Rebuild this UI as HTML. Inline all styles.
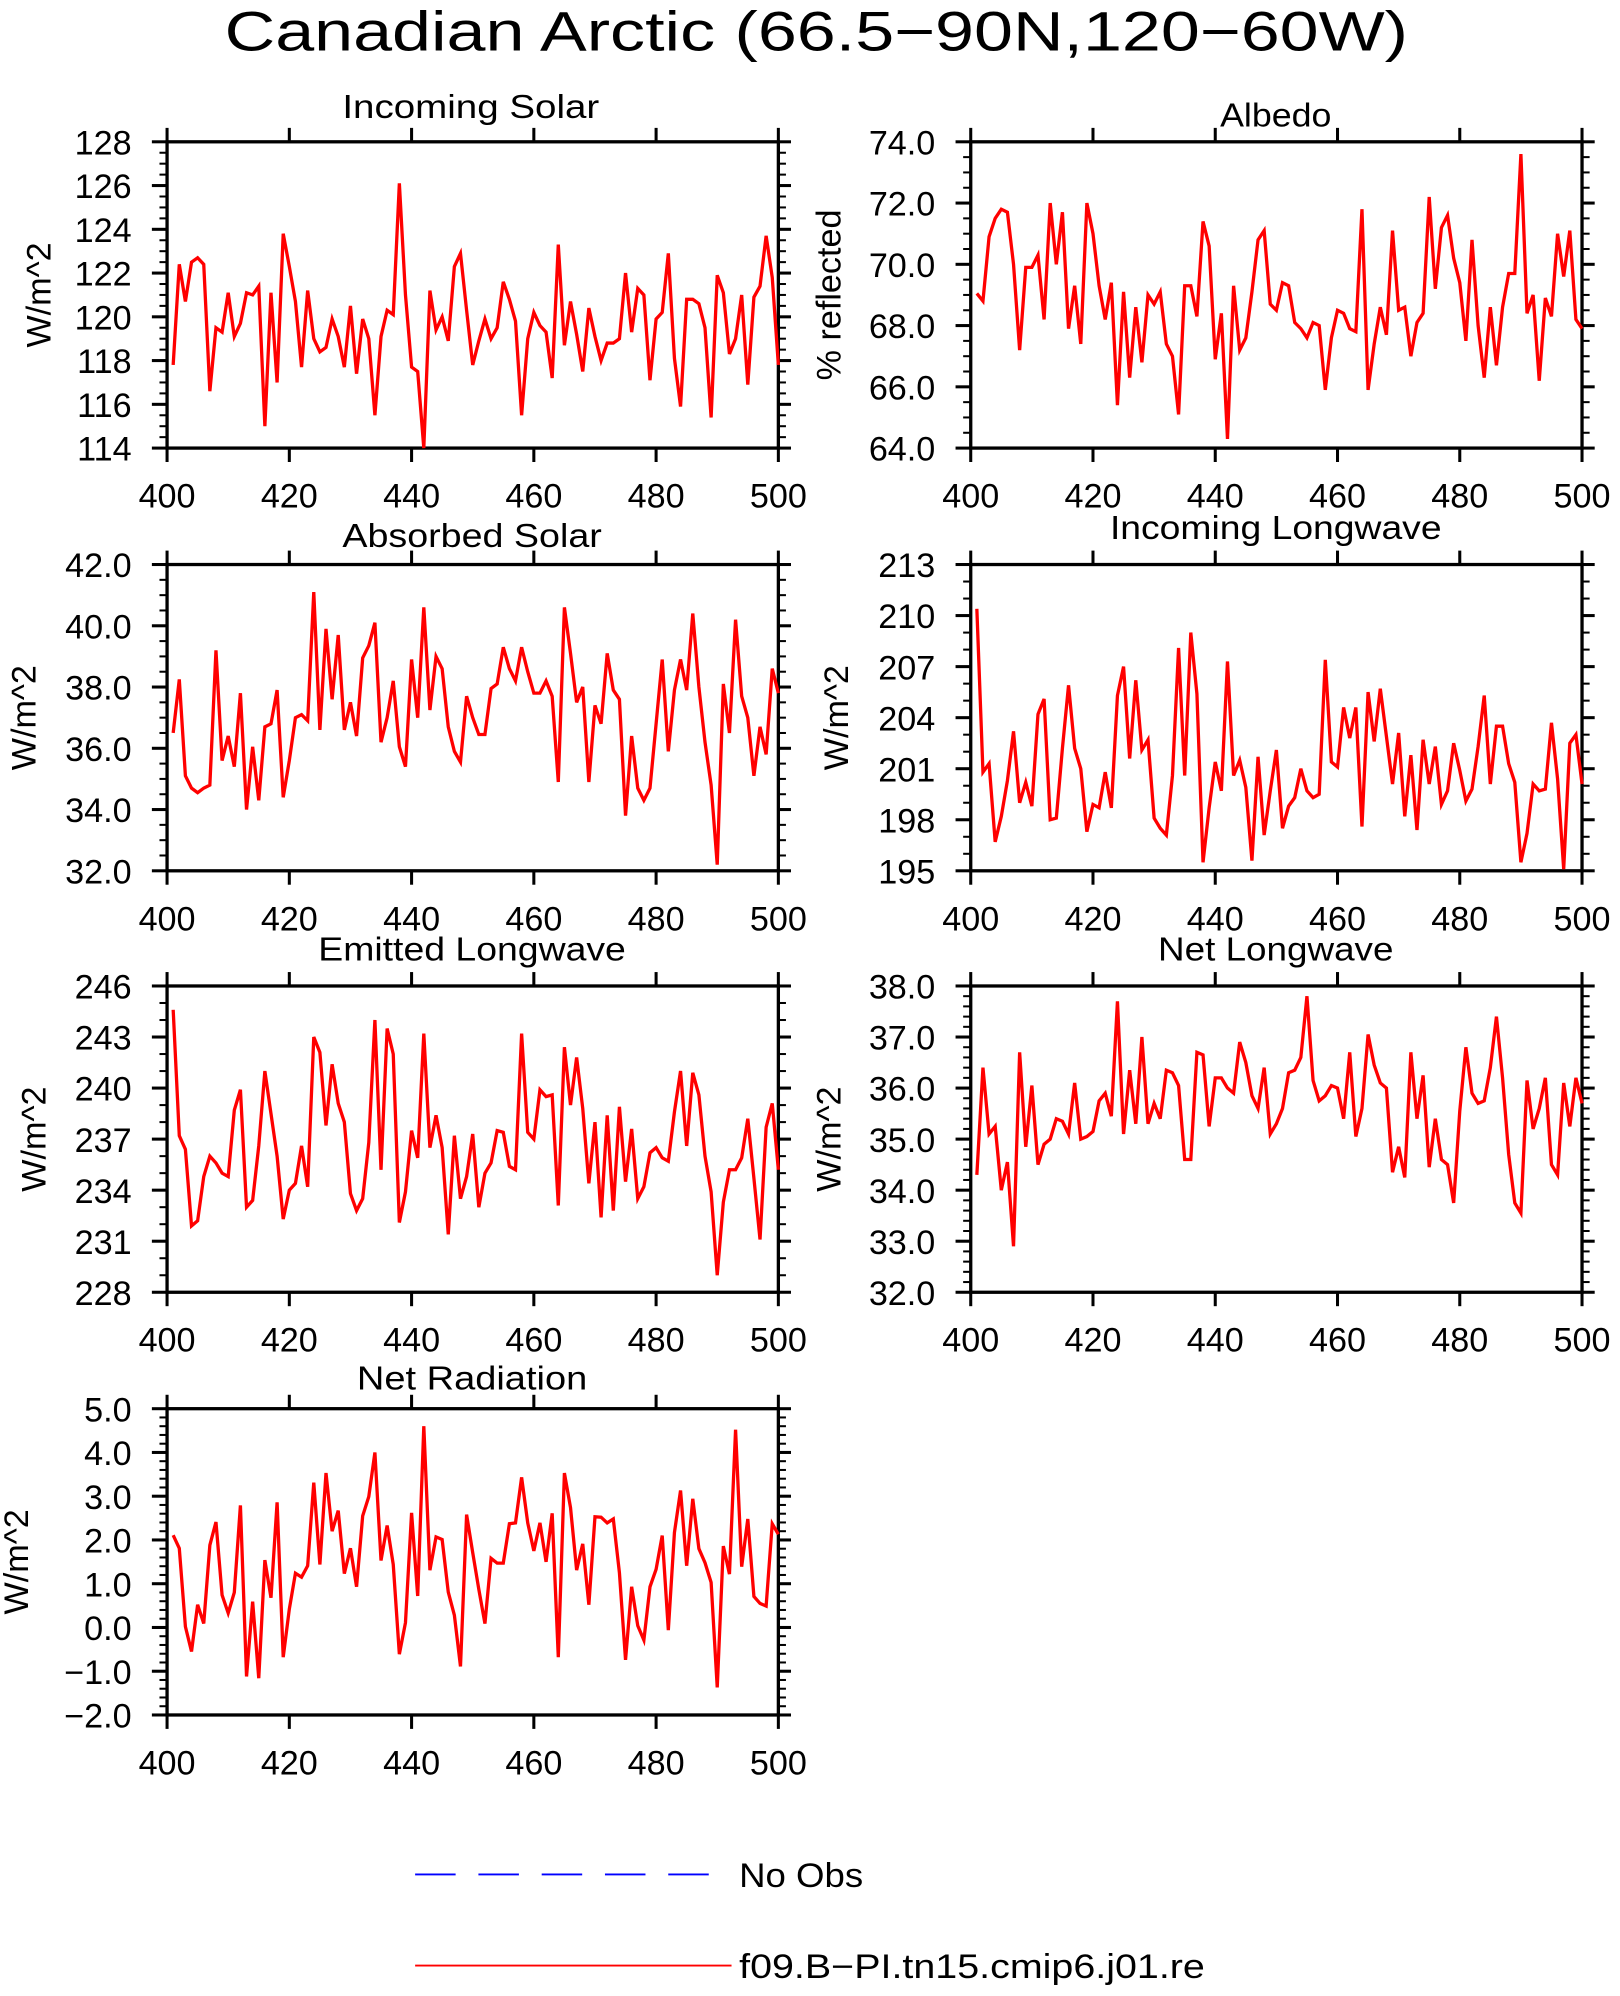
<!DOCTYPE html>
<html><head><meta charset="utf-8"><title>Canadian Arctic</title>
<style>
html,body{margin:0;padding:0;background:#fff;}
svg{display:block;}
text{font-family:"Liberation Sans",sans-serif;fill:#000;}
</style></head>
<body>
<svg id="fig" xmlns="http://www.w3.org/2000/svg" width="1620" height="1996" viewBox="0 0 1280 1577">
<rect x="0" y="0" width="1280" height="1577" fill="#fff"/>
<text x="645" y="40" font-size="44" text-anchor="middle" textLength="935" lengthAdjust="spacingAndGlyphs">Canadian Arctic (66.5−90N,120−60W)</text>
<g id="panels"></g>
<g>
<line x1="328" y1="1481" x2="578" y2="1481" stroke="#0000ff" stroke-width="1.5" stroke-dasharray="32,18"/>
<text x="584" y="1491" font-size="27" textLength="98" lengthAdjust="spacingAndGlyphs">No Obs</text>
<line x1="328" y1="1553" x2="578" y2="1553" stroke="#ff0000" stroke-width="1.5"/>
<text x="584" y="1563" font-size="27" textLength="368" lengthAdjust="spacingAndGlyphs">f09.B−PI.tn15.cmip6.j01.re</text>
</g>
</svg>
<script>
const years = Array.from({length:100},(_,i)=>401+i);
const incomingSolar = [117.8,122.4,120.7,122.5,122.7,122.4,116.6,119.5,119.3,121.1,119.1,119.7,121.1,121.0,121.4,115.0,121.1,117.0,123.8,122.3,120.7,117.7,121.2,119.0,118.4,118.6,119.9,119.1,117.7,120.5,117.4,119.9,119.0,115.5,119.1,120.3,120.1,126.1,121.0,117.7,117.5,114.0,121.2,119.4,120.0,118.9,122.3,122.9,120.3,117.8,118.9,119.9,119.0,119.5,121.6,120.8,119.8,115.5,119.0,120.2,119.6,119.3,117.2,123.3,118.7,120.7,119.2,117.5,120.4,119.1,118.0,118.8,118.8,119.0,122.0,119.3,121.3,121.0,117.1,119.9,120.2,122.9,118.1,115.9,120.8,120.8,120.6,119.5,115.4,121.9,121.1,118.3,119.0,121.0,116.9,120.9,121.4,123.7,121.8,117.8];
const albedo = [69.05,68.8,70.9,71.5,71.8,71.7,70.0,67.2,69.9,69.9,70.3,68.2,72.0,70.0,71.7,67.9,69.3,67.4,72.0,71.0,69.3,68.2,69.4,65.4,69.1,66.3,68.6,66.8,69.0,68.7,69.1,67.4,67.0,65.1,69.3,69.3,68.3,71.4,70.6,66.9,68.4,64.3,69.3,67.2,67.6,69.1,70.8,71.1,68.7,68.5,69.4,69.3,68.1,67.9,67.6,68.1,68.0,65.9,67.6,68.5,68.4,67.9,67.8,71.8,65.9,67.4,68.6,67.7,71.1,68.5,68.6,67.0,68.1,68.4,72.2,69.2,71.2,71.6,70.2,69.4,67.5,70.8,68.0,66.3,68.6,66.7,68.6,69.7,69.7,73.6,68.4,69.0,66.2,68.9,68.3,71.0,69.6,71.1,68.2,67.9];
const absorbedSolar = [36.5,38.25,35.1,34.7,34.55,34.7,34.8,39.2,35.6,36.4,35.4,37.8,34.0,36.05,34.3,36.7,36.8,37.9,34.4,35.6,37.0,37.1,36.9,41.1,36.6,39.9,37.6,39.7,36.6,37.5,36.4,38.95,39.35,40.1,36.2,37.0,38.2,36.05,35.4,38.9,37.0,40.6,37.25,39.0,38.6,36.7,35.9,35.55,37.7,37.0,36.45,36.45,37.95,38.1,39.3,38.6,38.2,39.3,38.5,37.8,37.8,38.2,37.7,34.9,40.6,39.1,37.5,38.0,34.9,37.4,36.8,39.1,37.9,37.6,33.8,36.4,34.7,34.3,34.7,36.8,38.9,35.9,37.9,38.9,37.9,40.4,38.0,36.2,34.8,32.2,38.1,36.5,40.2,37.7,37.0,35.1,36.7,35.8,38.6,37.8];
const incomingLW = [210.4,200.8,201.3,196.7,198.2,200.3,203.2,199.0,200.2,198.8,204.2,205.1,198.0,198.1,202.2,205.9,202.2,201.0,197.3,198.9,198.7,200.8,198.7,205.3,207.0,201.6,206.2,202.1,202.7,198.1,197.5,197.1,200.6,208.1,200.6,209.0,205.4,195.5,198.7,201.4,199.7,207.3,200.6,201.5,199.9,195.6,201.7,197.1,199.7,202.1,197.5,198.8,199.3,201.0,199.7,199.3,199.5,207.4,201.4,201.1,204.6,202.8,204.6,197.6,205.5,202.6,205.7,202.9,200.1,203.1,198.2,201.8,197.4,202.7,200.1,202.3,198.9,199.7,202.5,200.9,199.1,199.8,202.3,205.3,200.1,203.5,203.5,201.3,200.2,195.5,197.2,200.1,199.7,199.8,203.7,200.4,195.1,202.5,203.0,200.1];
const emittedLW = [244.6,237.2,236.4,231.9,232.2,234.8,236.0,235.6,235.0,234.8,238.7,239.9,233.0,233.4,236.6,241.0,238.5,236.0,232.3,234.0,234.4,236.6,234.2,243.0,242.1,237.8,241.4,239.1,238.0,233.8,232.8,233.5,236.8,244.0,235.2,243.5,242.0,232.1,233.9,237.5,235.9,243.2,236.5,238.4,236.5,231.4,237.2,233.5,234.8,237.3,233.0,235.0,235.6,237.5,237.4,235.4,235.2,243.2,237.4,237.0,239.9,239.5,239.6,233.1,242.4,239.0,241.8,238.8,234.4,238.0,232.4,238.4,232.8,238.9,234.5,237.6,233.5,234.2,236.2,236.5,235.9,235.7,238.6,241.0,236.6,240.9,239.6,236.0,233.9,229.0,233.3,235.2,235.2,235.9,238.2,234.7,231.1,237.7,239.1,235.2];
const netLW = [34.3,36.4,35.1,35.25,34.0,34.55,32.9,36.7,34.85,36.05,34.5,34.9,35.0,35.4,35.35,35.1,36.1,35.0,35.05,35.15,35.75,35.9,35.45,37.7,35.1,36.35,35.3,37.0,35.3,35.7,35.4,36.35,36.3,36.05,34.6,34.6,36.7,36.65,35.25,36.2,36.2,36.0,35.9,36.9,36.5,35.85,35.6,36.4,35.1,35.3,35.6,36.3,36.35,36.6,37.8,36.15,35.75,35.85,36.05,36.0,35.4,36.7,35.05,35.6,37.05,36.45,36.1,36.0,34.35,34.85,34.25,36.7,35.4,36.25,34.45,35.4,34.6,34.5,33.75,35.55,36.8,35.9,35.7,35.75,36.4,37.4,36.2,34.7,33.75,33.55,36.15,35.2,35.6,36.2,34.5,34.3,36.1,35.25,36.2,35.7];
const netRadiation = [2.11,1.81,0.02,-0.55,0.52,0.09,1.88,2.41,0.74,0.33,0.80,2.79,-1.12,0.59,-1.16,1.54,0.68,2.86,-0.68,0.42,1.24,1.15,1.41,3.31,1.44,3.53,2.20,2.67,1.23,1.81,0.93,2.55,2.99,4.00,1.53,2.33,1.44,-0.61,0.11,2.62,0.72,4.60,1.31,2.07,2.01,0.81,0.28,-0.89,2.58,1.71,0.87,0.09,1.58,1.47,1.47,2.37,2.39,3.43,2.39,1.75,2.39,1.50,2.61,-0.68,3.53,2.74,1.31,1.91,0.52,2.53,2.52,2.39,2.48,1.25,-0.74,0.93,0.04,-0.29,0.93,1.33,2.10,-0.06,2.17,3.13,1.41,2.94,1.80,1.48,1.03,-1.37,1.86,1.22,4.52,1.39,2.48,0.71,0.55,0.49,2.37,2.13];
const xTicks = [400,420,440,460,480,500];
const ticksIS = ['114','116','118','120','122','124','126','128'];
const ticksAL = ['64.0','66.0','68.0','70.0','72.0','74.0'];
const ticksAS = ['32.0','34.0','36.0','38.0','40.0','42.0'];
const ticksIL = ['195','198','201','204','207','210','213'];
const ticksEL = ['228','231','234','237','240','243','246'];
const ticksNL = ['32.0','33.0','34.0','35.0','36.0','37.0','38.0'];
const ticksNR = ['−2.0','−1.0','0.0','1.0','2.0','3.0','4.0','5.0'];

const NS='http://www.w3.org/2000/svg';
const root=document.getElementById('panels');
function mk(tag,attrs,parent){const e=document.createElementNS(NS,tag);for(const k in attrs)e.setAttribute(k,attrs[k]);parent.appendChild(e);return e;}
function num(s){return parseFloat(s.replace('−','-'));}

const L=[132,615], R=[767,1250];
const panels=[
 {key:'incoming-solar',title:'Incoming Solar',tx:372,ty:93,tw:203,xs:L,ys:[112,354],data:incomingSolar,ticks:ticksIS,minor:0.5,ylab:'W/m^2',ylx:40},
 {key:'albedo',title:'Albedo',tx:1008,ty:100,tw:88,xs:R,ys:[112,354],data:albedo,ticks:ticksAL,minor:0.5,ylab:'% reflected',ylx:664},
 {key:'absorbed-solar',title:'Absorbed Solar',tx:373,ty:432,tw:205,xs:L,ys:[446,688],data:absorbedSolar,ticks:ticksAS,minor:0.5,ylab:'W/m^2',ylx:28},
 {key:'incoming-longwave',title:'Incoming Longwave',tx:1008,ty:426,tw:262,xs:R,ys:[446,688],data:incomingLW,ticks:ticksIL,minor:1,ylab:'W/m^2',ylx:670},
 {key:'emitted-longwave',title:'Emitted Longwave',tx:373,ty:759,tw:243,xs:L,ys:[779,1021],data:emittedLW,ticks:ticksEL,minor:1,ylab:'W/m^2',ylx:36},
 {key:'net-longwave',title:'Net Longwave',tx:1008,ty:759,tw:186,xs:R,ys:[779,1021],data:netLW,ticks:ticksNL,minor:0.2,ylab:'W/m^2',ylx:664},
 {key:'net-radiation',title:'Net Radiation',tx:373,ty:1098,tw:182,xs:L,ys:[1113,1355],data:netRadiation,ticks:ticksNR,minor:0.2,ylab:'W/m^2',ylx:22}
];

panels.forEach(p=>{
 const g=mk('g',{},root);
 
 
 const ymin=num(p.ticks[0]), ymax=num(p.ticks[p.ticks.length-1]);
 const xs=v=>p.xs[0]+(v-400)/100*(p.xs[1]-p.xs[0]);
 const ys=v=>p.ys[1]-(v-ymin)/(ymax-ymin)*(p.ys[1]-p.ys[0]);
 const t=mk('text',{x:p.tx,y:p.ty,'font-size':26,'text-anchor':'middle',textLength:p.tw,lengthAdjust:'spacingAndGlyphs'},g);
 
 
 t.textContent=p.title;
 const ycy=(p.ys[0]+p.ys[1])/2;
 const yt=mk('text',{x:p.ylx,y:ycy,'font-size':27,'text-anchor':'middle',transform:`rotate(-90 ${p.ylx} ${ycy})`},g);
 
 
 yt.textContent=p.ylab;
 const nMinor=Math.round((ymax-ymin)/p.minor);
 for(let i=0;i<=nMinor;i++){
  const yy=ys(ymin+i*p.minor);
  const m1=mk('line',{x1:p.xs[0]-6,x2:p.xs[0],y1:yy,y2:yy,stroke:'#000','stroke-width':1.6},g);
  
  
  const m2=mk('line',{x1:p.xs[1],x2:p.xs[1]+6,y1:yy,y2:yy,stroke:'#000','stroke-width':1.6},g);
  
  
 }
 p.ticks.forEach(lbl=>{
  const yy=ys(num(lbl));
  const a=mk('line',{x1:p.xs[0]-12,x2:p.xs[0],y1:yy,y2:yy,stroke:'#000','stroke-width':2.4},g);
  
  
  const b=mk('line',{x1:p.xs[1],x2:p.xs[1]+10,y1:yy,y2:yy,stroke:'#000','stroke-width':2.4},g);
  
  
  const tl=mk('text',{x:p.xs[0]-28,y:yy+10,'font-size':27,'text-anchor':'end'},g);
  
  
  tl.textContent=lbl;
 });
 xTicks.forEach(v=>{
  const xx=xs(v);
  const a=mk('line',{x1:xx,x2:xx,y1:p.ys[0]-11,y2:p.ys[0],stroke:'#000','stroke-width':2.4},g);
  
  
  const b=mk('line',{x1:xx,x2:xx,y1:p.ys[1],y2:p.ys[1]+11,stroke:'#000','stroke-width':2.4},g);
  
  
  const tl=mk('text',{x:xx,y:p.ys[1]+47,'font-size':27,'text-anchor':'middle'},g);
  
  
  tl.textContent=String(v);
 });
 const fr=mk('rect',{x:p.xs[0],y:p.ys[0],width:p.xs[1]-p.xs[0],height:p.ys[1]-p.ys[0],fill:'none',stroke:'#000','stroke-width':2.6},g);
 
 
 const pts=p.data.map((v,i)=>xs(years[i]).toFixed(2)+','+ys(v).toFixed(2)).join(' ');
 const pl=mk('polyline',{points:pts,fill:'none',stroke:'#ff0000','stroke-width':2.6,'stroke-linejoin':'miter'},g);
 
 
});
</script>
</body></html>
